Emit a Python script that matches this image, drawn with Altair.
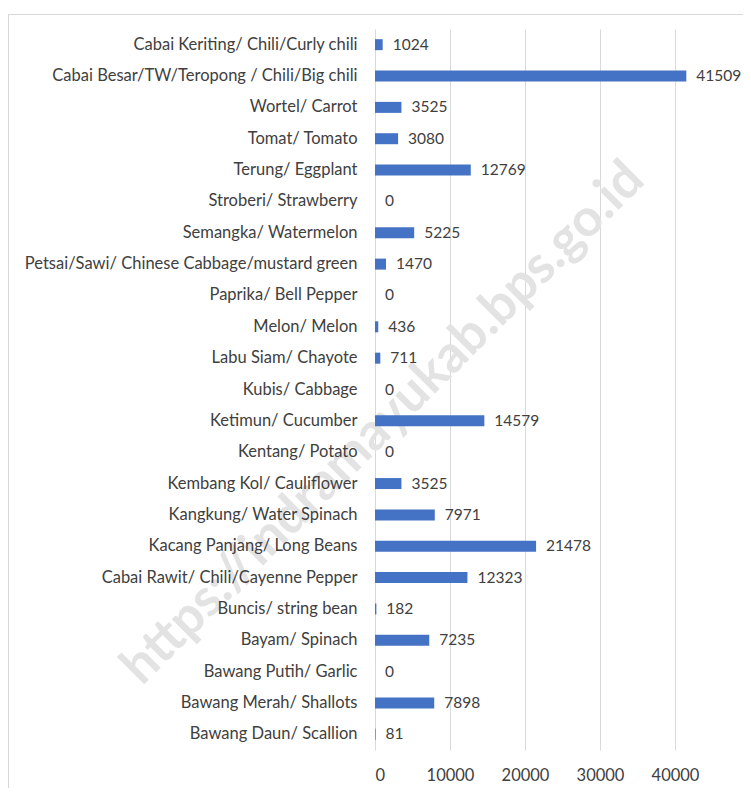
import altair as alt
import pandas as pd

categories = [
    "Cabai Keriting/ Chili/Curly chili",
    "Cabai Besar/TW/Teropong / Chili/Big chili",
    "Wortel/ Carrot",
    "Tomat/ Tomato",
    "Terung/ Eggplant",
    "Stroberi/ Strawberry",
    "Semangka/ Watermelon",
    "Petsai/Sawi/ Chinese Cabbage/mustard green",
    "Paprika/ Bell Pepper",
    "Melon/ Melon",
    "Labu Siam/ Chayote",
    "Kubis/ Cabbage",
    "Ketimun/ Cucumber",
    "Kentang/ Potato",
    "Kembang Kol/ Cauliflower",
    "Kangkung/ Water Spinach",
    "Kacang Panjang/ Long Beans",
    "Cabai Rawit/ Chili/Cayenne Pepper",
    "Buncis/ string bean",
    "Bayam/ Spinach",
    "Bawang Putih/ Garlic",
    "Bawang Merah/ Shallots",
    "Bawang Daun/ Scallion",
]
values = [1024, 41509, 3525, 3080, 12769, 0, 5225, 1470, 0, 436, 711, 0,
          14579, 0, 3525, 7971, 21478, 12323, 182, 7235, 0, 7898, 81]
x_ticks = [0, 10000, 20000, 30000, 40000]
watermark_text = "https://indramayukab.bps.go.id"

df = pd.DataFrame({"cat": categories, "val": values})
one = pd.DataFrame({"k": [0]})

FONT = "Lato"
TXT = "#404040"
W, H = 368, 721

x_enc = alt.X("val:Q", scale=alt.Scale(domain=[0, 49067], nice=False),
              axis=alt.Axis(values=x_ticks, title=None, grid=True, gridColor="#d9d9d9",
                            ticks=False, domain=False, labelFont=FONT, labelFontSize=16.5,
                            labelColor=TXT, labelPadding=17, format="d"))
y_enc = alt.Y("cat:N", sort=categories,
              axis=alt.Axis(title=None, ticks=False, domain=False, labelFont=FONT,
                            labelFontSize=16.5, labelColor=TXT, labelPadding=18,
                            labelLimit=400, zindex=1))

bars = alt.Chart(df).mark_bar(size=11, color="#4472C4").encode(x=x_enc, y=y_enc)
labels = alt.Chart(df).mark_text(align="left", baseline="middle", dx=10, font=FONT,
                                 fontSize=15.5, color=TXT).encode(
    x=alt.X("val:Q"), y=alt.Y("cat:N", sort=categories), text=alt.Text("val:Q", format="d"))

frame_left = alt.Chart(one).mark_rule(color="#d9d9d9", strokeWidth=1).encode(
    x=alt.value(-366.5), y=alt.value(-14), y2=alt.value(760))
frame_top = alt.Chart(one).mark_rule(color="#d9d9d9", strokeWidth=1).encode(
    x=alt.value(-367), x2=alt.value(W + 5), y=alt.value(-14.5))

watermark = alt.Chart(one).mark_text(
    text=watermark_text, angle=315, font=FONT, fontWeight="bold", fontSize=52,
    color="#e3e3e3", align="center", baseline="middle").encode(
    x=alt.value(8), y=alt.value(394))

chart = alt.layer(frame_left, frame_top, watermark, bars, labels).properties(
    width=W, height=H,
    autosize=alt.AutoSizeParams(type="none"),
    padding={"left": 367, "top": 21, "right": 0, "bottom": 38},
    background="white",
).configure_view(stroke=None)

chart.save("out.html", embed_options={"renderer": "svg", "actions": False})
